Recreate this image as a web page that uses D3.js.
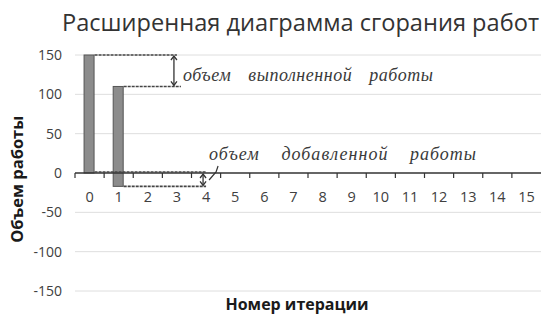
<!DOCTYPE html>
<html><head><meta charset="utf-8">
<script src="https://cdn.jsdelivr.net/npm/d3@7"></script>
<style>body{margin:0;background:#fff}svg{display:block}</style>
</head><body><svg id="c" width="541" height="314"></svg>
<script>
const categories = ["0","1","2","3","4","5","6","7","8","9","10","11","12","13","14","15"];
const barLow = [0, -17];
const barHigh = [150, 110];
const yTicks = [150, 100, 50, 0, -50, -100, -150];
const title = "Расширенная диаграмма сгорания работ";
const xTitle = "Номер итерации";
const yTitle = "Объем работы";
const noteDone = "объем выполненной работы";
const noteAdded = "объем добавленной работы";

const svg = d3.select("#c");
const x = d3.scaleBand().domain(categories).range([75, 541]).paddingInner(0).paddingOuter(0);
const y = d3.scaleLinear().domain([-150, 150]).range([291, 55]);

svg.append("text").attr("x", 62).attr("y", 31).attr("font-family", "Open Sans").attr("font-size", 23.5)
  .attr("fill", "#333").attr("textLength", 477).attr("lengthAdjust", "spacingAndGlyphs").text(title);

// grid
svg.append("g").selectAll("line").data(yTicks.filter(d => d !== 0)).join("line")
  .attr("x1", 75).attr("x2", 541).attr("y1", d => y(d)).attr("y2", d => y(d))
  .attr("stroke", "#dedede").attr("stroke-width", 1);

// y labels
svg.append("g").selectAll("text").data(yTicks).join("text")
  .attr("x", 62).attr("y", d => y(d)).attr("dy", "0.35em").attr("text-anchor", "end")
  .attr("font-family", "Open Sans").attr("font-size", 14).attr("fill", "#404040").text(d => d);

// bars
const bw = 10;
svg.append("g").selectAll("rect").data(barHigh).join("rect")
  .attr("x", (d, i) => x(categories[i]) + x.bandwidth() / 2 - bw / 2 - 0.5)
  .attr("y", (d) => y(d))
  .attr("width", bw)
  .attr("height", (d, i) => y(barLow[i]) - y(d))
  .attr("fill", "#8c8c8c").attr("stroke", "#555").attr("stroke-width", 1);

// x axis
const xa = svg.append("g").attr("transform", `translate(0,${y(0)})`);
xa.append("line").attr("x1", 75).attr("x2", 541).attr("stroke", "#333").attr("stroke-width", 1.5);
xa.selectAll("line.t").data(categories).join("line").attr("class", "t")
  .attr("x1", d => x(d)).attr("x2", d => x(d)).attr("y1", 0).attr("y2", 5)
  .attr("stroke", "#333").attr("stroke-width", 1.2);
xa.selectAll("text").data(categories).join("text")
  .attr("x", d => x(d) + x.bandwidth() / 2).attr("y", 24).attr("dy", "0.35em")
  .attr("text-anchor", "middle").attr("font-family", "Open Sans").attr("font-size", 14.5)
  .attr("fill", "#404040").text(d => d);

// annotations
const ann = svg.append("g").attr("stroke", "#444").attr("stroke-width", 1.6).attr("stroke-dasharray", "3,1").attr("fill", "none");
const cx = c => x(c) + x.bandwidth() / 2;
const right = i => cx(categories[i]) + bw / 2;
ann.append("line").attr("x1", right(0)).attr("x2", cx("3")).attr("y1", y(barHigh[0])).attr("y2", y(barHigh[0]));
ann.append("line").attr("x1", right(1)).attr("x2", cx("3") + 4).attr("y1", y(barHigh[1])).attr("y2", y(barHigh[1]));
ann.append("line").attr("x1", right(0)).attr("x2", cx("4")).attr("y1", y(barLow[0]) - 1).attr("y2", y(barLow[0]) - 1);
ann.append("line").attr("x1", right(1)).attr("x2", cx("4")).attr("y1", y(barLow[1])).attr("y2", y(barLow[1]));

function dblArrow(px, y1, y2) {
  const g = svg.append("g").attr("stroke", "#333").attr("stroke-width", 1.3).attr("fill", "none");
  g.append("line").attr("x1", px).attr("x2", px).attr("y1", y1 + 1).attr("y2", y2 - 1);
  g.append("path").attr("d", `M${px-3},${y1+5}L${px},${y1+1}L${px+3},${y1+5}`);
  g.append("path").attr("d", `M${px-3},${y2-5}L${px},${y2-1}L${px+3},${y2-5}`);
}
dblArrow(cx("3") - 3, y(barHigh[0]), y(barHigh[1]));
dblArrow(cx("4") - 3, y(barLow[0]), y(barLow[1]));

svg.append("path").attr("d", `M${cx("4") + 3},${y(0) + 7} L${cx("4") + 10},${y(0) - 1} L${cx("4") + 12},${y(0) - 7}`)
  .attr("stroke", "#333").attr("stroke-width", 1.2).attr("fill", "none");

svg.append("text").attr("x", cx("3") + 6).attr("y", y(125)).attr("dy", "0.35em")
  .attr("font-family", "Liberation Serif").attr("font-style", "italic").attr("font-size", 18)
  .attr("fill", "#3a3a3a").attr("word-spacing", 12).attr("textLength", 250).attr("lengthAdjust", "spacing").text(noteDone);
svg.append("text").attr("x", cx("4") + 3).attr("y", y(25)).attr("dy", "0.35em")
  .attr("font-family", "Liberation Serif").attr("font-style", "italic").attr("font-size", 18)
  .attr("fill", "#3a3a3a").attr("word-spacing", 16).attr("textLength", 267).attr("lengthAdjust", "spacing").text(noteAdded);

// axis titles
svg.append("text").attr("transform", `translate(23,${y(-8)}) rotate(-90)`).attr("text-anchor", "middle")
  .attr("font-family", "Open Sans").attr("font-weight", "bold").attr("font-size", 16.5).attr("fill", "#1a1a1a").text(yTitle);
svg.append("text").attr("x", 297).attr("y", 310).attr("text-anchor", "middle")
  .attr("font-family", "Open Sans").attr("font-weight", "bold").attr("font-size", 16).attr("fill", "#1a1a1a").text(xTitle);
</script></body></html>
